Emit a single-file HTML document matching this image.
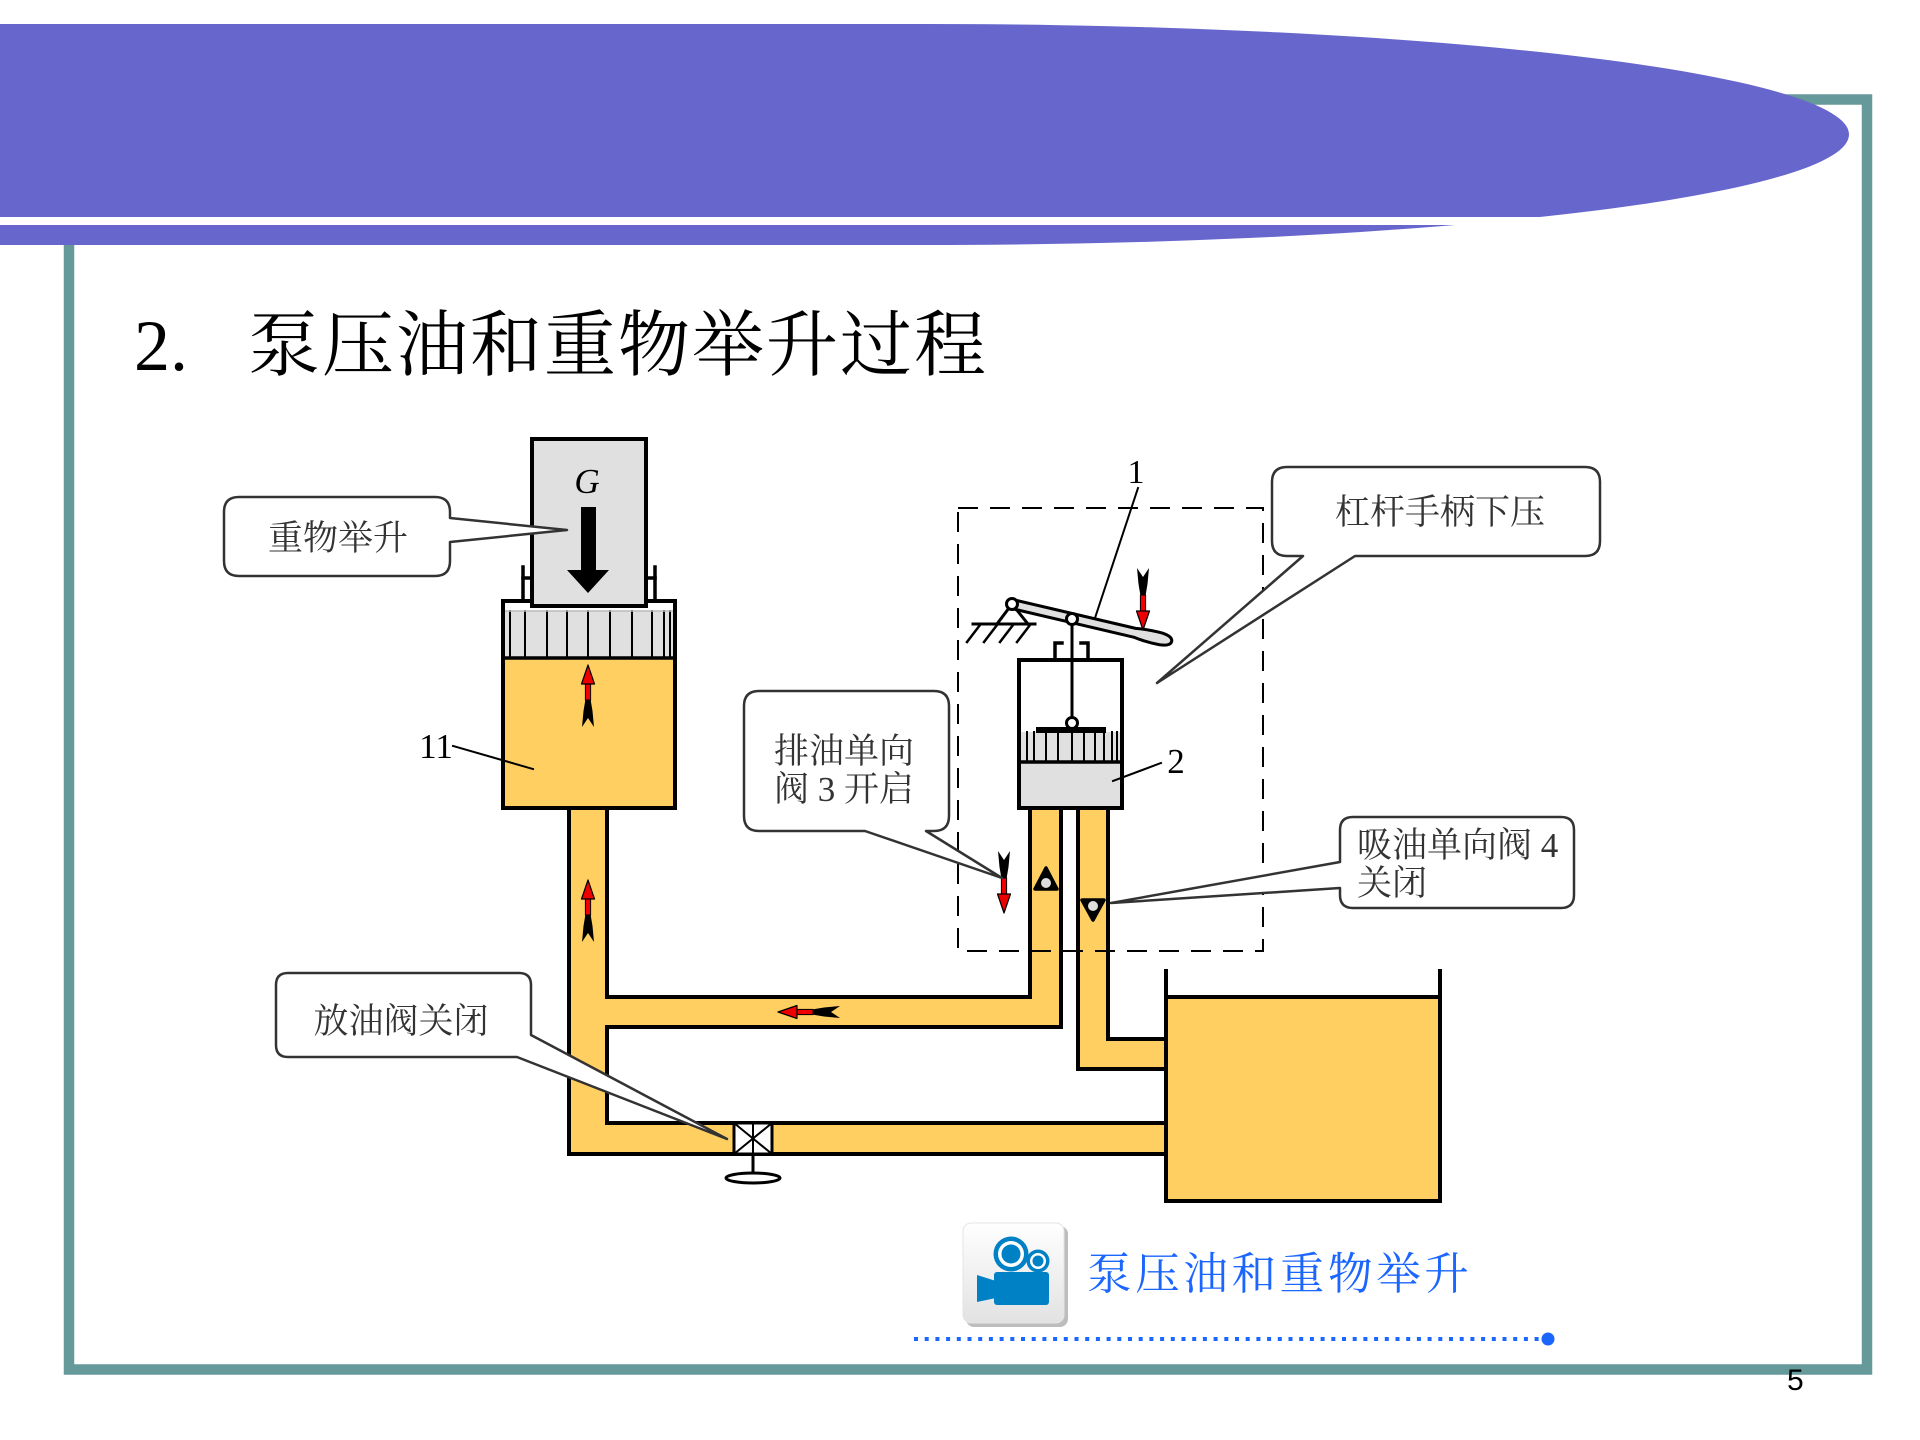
<!DOCTYPE html>
<html><head><meta charset="utf-8">
<style>
html,body{margin:0;padding:0;background:#fff;}
svg{display:block;}
.cj{font-family:"Liberation Serif","Noto Serif CJK SC",serif;}
</style></head>
<body>
<svg width="1920" height="1440" viewBox="0 0 1920 1440" xmlns="http://www.w3.org/2000/svg">
<defs>
  <g id="arr">
    <path d="M-6,0 L0,9 L6,0 L4.5,16 L2.5,28 L-2.5,28 L-4.5,16 Z" fill="#000"/>
    <rect x="-2.6" y="27" width="5.2" height="17" fill="#e00" stroke="#000" stroke-width="1"/>
    <path d="M-6.5,43 L6.5,43 L0,62 Z" fill="#e00" stroke="#000" stroke-width="1.2" stroke-linejoin="round"/>
  </g>
  <linearGradient id="ig" x1="0" y1="0" x2="0" y2="1">
    <stop offset="0" stop-color="#ffffff"/>
    <stop offset="1" stop-color="#e2e2e2"/>
  </linearGradient>
</defs>

<!-- frame -->
<rect x="69" y="99.5" width="1798" height="1270" fill="none" stroke="#669999" stroke-width="10.5"/>

<!-- purple header band -->
<rect x="0" y="24" width="930" height="221" fill="#6666CC"/>
<ellipse cx="925" cy="134.5" rx="924" ry="110.5" fill="#6666CC"/>
<rect x="0" y="217" width="1600" height="8" fill="#fff"/>

<!-- title -->
<text x="134" y="370" font-family="'Liberation Serif',serif" font-size="72" fill="#000">2.</text>
<text x="248" y="370" class="cj" font-size="72" letter-spacing="2" fill="#000">泵压油和重物举升过程</text>

<!-- ===== diagram ===== -->
<g stroke-linecap="square">
<!-- yellow fills -->
<g fill="#FFCF62">
  <rect x="503" y="658" width="172" height="150"/>
  <rect x="569" y="806" width="38" height="348"/>
  <rect x="569" y="997" width="492" height="30"/>
  <rect x="1030" y="806" width="31" height="221"/>
  <rect x="569" y="1123" width="597" height="31"/>
  <rect x="1078" y="806" width="30" height="263"/>
  <rect x="1078" y="1039" width="88" height="30"/>
  <rect x="1166" y="997" width="274" height="204"/>
</g>

<!-- pipe walls -->
<g fill="none" stroke="#000" stroke-width="4">
  <polyline points="569,808 569,1154 1166,1154"/>
  <polyline points="607,808 607,997 1030,997 1030,808"/>
  <polyline points="1061,808 1061,1027 607,1027 607,1123 1166,1123"/>
  <polyline points="1078,808 1078,1069 1166,1069"/>
  <polyline points="1108,808 1108,1039 1166,1039"/>
  <polyline points="1166,971 1166,1201 1440,1201 1440,971"/>
  <line x1="1166" y1="997" x2="1440" y2="997"/>
</g>

<!-- cylinder 11 -->
<rect x="503" y="601" width="172" height="57" fill="#fff"/>
<rect x="503" y="611" width="172" height="47" fill="#E0E0E0"/>
<g stroke="#000" stroke-width="2">
  <line x1="510" y1="611" x2="510" y2="658"/><line x1="525" y1="611" x2="525" y2="658"/>
  <line x1="547" y1="611" x2="547" y2="658"/><line x1="567" y1="611" x2="567" y2="658"/>
  <line x1="588" y1="611" x2="588" y2="658"/><line x1="610" y1="611" x2="610" y2="658"/>
  <line x1="632" y1="611" x2="632" y2="658"/><line x1="652" y1="611" x2="652" y2="658"/>
  <line x1="664" y1="611" x2="664" y2="658"/><line x1="670" y1="611" x2="670" y2="658"/>
</g>
<line x1="503" y1="611" x2="675" y2="611" stroke="#bbb" stroke-width="1.5"/>
<line x1="503" y1="658" x2="675" y2="658" stroke="#000" stroke-width="3.5"/>
<rect x="503" y="601" width="172" height="207" fill="none" stroke="#000" stroke-width="4"/>
<g fill="none" stroke="#000" stroke-width="3.5">
  <polyline points="523,601 523,567"/><line x1="523" y1="578" x2="532" y2="578"/>
  <polyline points="655,601 655,567"/><line x1="646" y1="578" x2="655" y2="578"/>
</g>
<!-- weight -->
<rect x="532" y="439" width="114" height="167" fill="#E0E0E0" stroke="#000" stroke-width="4"/>
<text x="587" y="493" text-anchor="middle" font-family="'Liberation Serif',serif" font-style="italic" font-size="35" fill="#000">G</text>
<rect x="581" y="507" width="15" height="64" fill="#000"/>
<polygon points="567,570 609,570 588,593" fill="#000"/>

<!-- label 11 -->
<text x="436" y="758" text-anchor="middle" font-family="'Liberation Serif',serif" font-size="35" fill="#000">11</text>
<line x1="453" y1="746" x2="533" y2="769" stroke="#000" stroke-width="2"/>

<!-- pump -->
<rect x="1019" y="660" width="103" height="148" fill="#fff"/>
<rect x="1019" y="762" width="103" height="46" fill="#E0E0E0"/>
<rect x="1019" y="732" width="103" height="30" fill="#E0E0E0"/>
<g stroke="#000" stroke-width="2">
  <line x1="1027" y1="732" x2="1027" y2="762"/><line x1="1034" y1="732" x2="1034" y2="762"/>
  <line x1="1046" y1="732" x2="1046" y2="762"/><line x1="1058" y1="732" x2="1058" y2="762"/>
  <line x1="1072" y1="732" x2="1072" y2="762"/><line x1="1084" y1="732" x2="1084" y2="762"/>
  <line x1="1095" y1="732" x2="1095" y2="762"/><line x1="1104" y1="732" x2="1104" y2="762"/>
  <line x1="1112" y1="732" x2="1112" y2="762"/><line x1="1117" y1="732" x2="1117" y2="762"/>
</g>
<line x1="1019" y1="762" x2="1122" y2="762" stroke="#000" stroke-width="3.5"/>
<rect x="1036" y="727" width="70" height="6" fill="#000"/>
<rect x="1019" y="660" width="103" height="148" fill="none" stroke="#000" stroke-width="4"/>
<polyline points="1019,660 1055,660 1055,643 1062,643" fill="none" stroke="#000" stroke-width="3.5"/>
<polyline points="1081,643 1088,643 1088,660 1122,660" fill="none" stroke="#000" stroke-width="3.5"/>
<line x1="1072" y1="619" x2="1072" y2="723" stroke="#000" stroke-width="3"/>
<circle cx="1072" cy="723" r="5.5" fill="#fff" stroke="#000" stroke-width="3"/>

<!-- ground + lever -->
<g stroke="#000" stroke-width="2.5" fill="none">
  <line x1="973" y1="624" x2="1035" y2="624" stroke-width="3"/>
  <line x1="980" y1="625" x2="967" y2="642"/><line x1="997" y1="625" x2="984" y2="642"/>
  <line x1="1013" y1="625" x2="1000" y2="642"/><line x1="1030" y1="625" x2="1017" y2="642"/>
  <line x1="1012" y1="604" x2="997" y2="624" stroke-width="3"/>
  <line x1="1012" y1="604" x2="1028" y2="624" stroke-width="3"/>
</g>
<g transform="rotate(13.2 1012 604)">
  <path d="M1012,599.5 L1138,599.5 Q1150,597.5 1165,598 Q1176,599 1176,604 Q1176,609 1165,610 Q1150,610.5 1138,608.5 L1012,608.5 Z" fill="#E0E0E0" stroke="#000" stroke-width="3" stroke-linejoin="round"/>
</g>
<circle cx="1012" cy="604" r="5.5" fill="#fff" stroke="#000" stroke-width="3"/>
<circle cx="1072" cy="619" r="5.5" fill="#fff" stroke="#000" stroke-width="3"/>

<!-- labels 1, 2 -->
<text x="1136" y="483" text-anchor="middle" font-family="'Liberation Serif',serif" font-size="34" fill="#000">1</text>
<line x1="1138" y1="488" x2="1095" y2="618" stroke="#000" stroke-width="2"/>
<text x="1176" y="773" text-anchor="middle" font-family="'Liberation Serif',serif" font-size="35" fill="#000">2</text>
<line x1="1161" y1="763" x2="1113" y2="781" stroke="#000" stroke-width="2"/>

<!-- check valves -->
<polygon points="1046,868 1035,889 1057,889" fill="#000" stroke="#000" stroke-width="3.5" stroke-linejoin="round"/>
<circle cx="1046" cy="883" r="5.5" fill="#ddd" stroke="#000" stroke-width="1"/>
<polygon points="1082,900 1104,900 1093,920" fill="#000" stroke="#000" stroke-width="3.5" stroke-linejoin="round"/>
<circle cx="1093" cy="906" r="5.5" fill="#ddd" stroke="#000" stroke-width="1"/>

<!-- drain valve -->
<rect x="734" y="1123" width="38" height="31" fill="#fff" stroke="#000" stroke-width="3"/>
<g stroke="#000" stroke-width="2">
  <line x1="734" y1="1123" x2="772" y2="1154"/><line x1="772" y1="1123" x2="734" y2="1154"/>
  <line x1="753" y1="1123" x2="753" y2="1154"/>
</g>
<line x1="753" y1="1154" x2="753" y2="1175" stroke="#000" stroke-width="3"/>
<ellipse cx="753" cy="1178" rx="27" ry="5" fill="#fff" stroke="#000" stroke-width="3"/>
</g>

<!-- dashed box -->
<rect x="958" y="508" width="305" height="443" fill="none" stroke="#000" stroke-width="2" stroke-dasharray="20 12"/>

<!-- flow arrows -->
<use href="#arr" transform="translate(588,727) rotate(180)"/>
<use href="#arr" transform="translate(588,942) rotate(180)"/>
<use href="#arr" transform="translate(840,1012) rotate(90)"/>
<use href="#arr" transform="translate(1004,851)"/>
<use href="#arr" transform="translate(1143,568)"/>

<!-- callouts -->
<g fill="#fff" stroke="#333" stroke-width="2.5" stroke-linejoin="round">
  <path d="M239,497 H435 Q450,497 450,512 V518 L567,530 L450,542 V561 Q450,576 435,576 H239 Q224,576 224,561 V512 Q224,497 239,497 Z"/>
  <path d="M759,691 H934 Q949,691 949,706 V816 Q949,831 934,831 H926 L1002,878 L865,831 H759 Q744,831 744,816 V706 Q744,691 759,691 Z"/>
  <path d="M1287,467 H1585 Q1600,467 1600,482 V541 Q1600,556 1585,556 H1355 L1157,683 L1303,556 H1287 Q1272,556 1272,541 V482 Q1272,467 1287,467 Z"/>
  <path d="M1353,817 H1561 Q1574,817 1574,830 V895 Q1574,908 1561,908 H1353 Q1340,908 1340,895 V888 L1111,903 L1340,862 V830 Q1340,817 1353,817 Z"/>
  <path d="M288,973 H519 Q531,973 531,985 V1035 L727,1139 L517,1057 H288 Q276,1057 276,1045 V985 Q276,973 288,973 Z"/>
</g>
<g class="cj" font-size="35" fill="#333">
  <text x="338" y="550" text-anchor="middle">重物举升</text>
  <text x="774" y="763">排油单向</text>
  <text x="774" y="801">阀 3 开启</text>
  <text x="1440" y="524" text-anchor="middle">杠杆手柄下压</text>
  <text x="1357" y="857">吸油单向阀 4</text>
  <text x="1357" y="895">关闭</text>
  <text x="401" y="1033" text-anchor="middle">放油阀关闭</text>
</g>

<!-- video icon -->
<rect x="966" y="1226" width="102" height="101" rx="8" fill="#bdbdbd"/>
<rect x="963" y="1223" width="101" height="100" rx="8" fill="url(#ig)" stroke="#e4e4e4" stroke-width="1"/>
<g fill="#0081C6">
  <rect x="994" y="1272" width="55" height="33" rx="3"/>
  <polygon points="977,1275 996,1281 996,1298 977,1302"/>
  <circle cx="1011" cy="1254" r="17.5"/>
  <circle cx="1038" cy="1261" r="11.5"/>
</g>
<circle cx="1011" cy="1254" r="13" fill="#fff"/>
<circle cx="1011" cy="1254" r="9.5" fill="#0081C6"/>
<circle cx="1038" cy="1261" r="8" fill="#fff"/>
<circle cx="1038" cy="1261" r="5.5" fill="#0081C6"/>

<text x="1087" y="1289" class="cj" font-size="44.5" letter-spacing="3.7" fill="#1a66ff">泵压油和重物举升</text>
<line x1="914" y1="1339" x2="1542" y2="1339" stroke="#1a66ff" stroke-width="4" stroke-dasharray="4 6.7"/>
<circle cx="1548" cy="1339" r="6.5" fill="#1a66ff"/>

<!-- page number -->
<text x="1787" y="1390" font-family="'Liberation Sans',sans-serif" font-size="30" fill="#000">5</text>
</svg>
</body></html>
